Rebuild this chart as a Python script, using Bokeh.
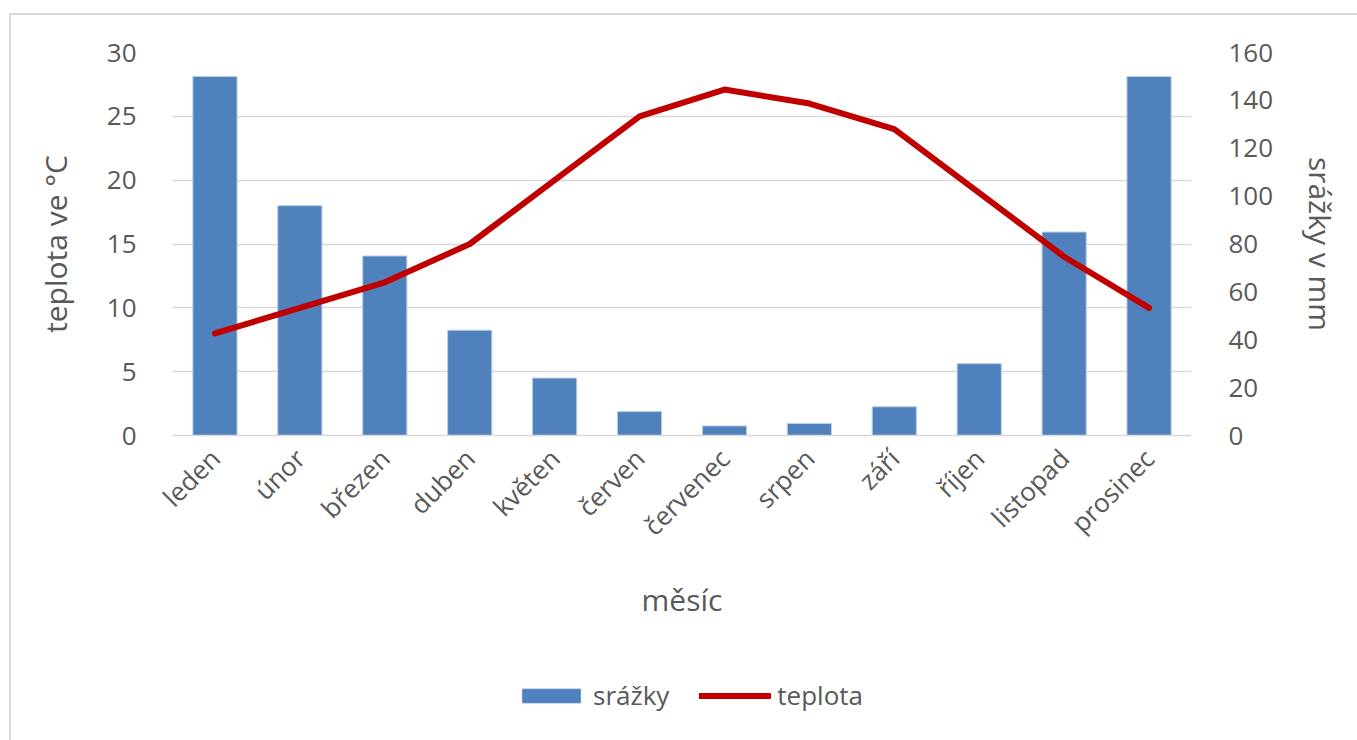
import math
from bokeh.plotting import figure
from bokeh.layouts import column
from bokeh.models import (Range1d, LinearAxis, FactorRange, Legend, LegendItem, FixedTicker,
                          ColumnDataSource, InlineStyleSheet)
from bokeh.embed import file_html
from bokeh.resources import INLINE

months = ["leden", "únor", "březen", "duben", "květen", "červen",
          "červenec", "srpen", "září", "říjen", "listopad", "prosinec"]
srazky = [150, 96, 75, 44, 24, 10, 4, 5, 12, 30, 85, 150]
teplota = [8, 10, 12, 15, 20, 25, 27.1, 26, 24, 19, 14, 10]

left_ticks = [0, 5, 10, 15, 20, 25, 30]
right_ticks = [0, 20, 40, 60, 80, 100, 120, 140, 160]

FONT = "Open Sans"
GRAY = "#595959"
GRID = "#D9D9D9"
BAR = "#4F81BD"
LINE = "#C00000"

src = ColumnDataSource(dict(m=months, s=srazky, t=teplota))

p = figure(width=1350, height=625, x_range=FactorRange(*months, range_padding=0),
           y_range=Range1d(0, 30), output_backend="svg", toolbar_location=None,
           min_border_left=172, min_border_top=52, min_border_right=159, min_border_bottom=190)
p.extra_y_ranges = {"r": Range1d(0, 160)}
p.outline_line_color = None
p.stylesheets = [InlineStyleSheet(css=":host { overflow: visible; } :host::after { content: ''; position: absolute; "
                                      "left: 9px; top: 13px; right: -30px; bottom: -300px; "
                                      "border: 2px solid #D9D9D9; pointer-events: none; z-index: 10; }")]

bars = p.vbar(x="m", top="s", width=0.52, source=src, y_range_name="r",
              fill_color=BAR, line_color="#B9CDE5", line_width=1)
line = p.line(x="m", y="t", source=src, line_color=LINE, line_width=6,
              line_cap="round", line_join="round")

# grid
p.xgrid.grid_line_color = None
p.ygrid.grid_line_color = GRID
p.ygrid.grid_line_width = 1.5

# left axis
ya = p.yaxis[0]
ya.ticker = FixedTicker(ticks=left_ticks)
ya.axis_line_color = None
ya.major_tick_line_color = None
ya.minor_tick_line_color = None
ya.major_label_standoff = 30
ya.major_label_text_font = FONT
ya.major_label_text_font_size = "26px"
ya.major_label_text_color = GRAY
ya.axis_label = "teplota ve °C"
ya.axis_label_text_font = FONT
ya.axis_label_text_font_size = "30px"
ya.axis_label_text_font_style = "normal"
ya.axis_label_text_color = GRAY
ya.axis_label_standoff = 28

# right axis
ra = LinearAxis(y_range_name="r", ticker=FixedTicker(ticks=right_ticks))
ra.axis_line_color = None
ra.major_tick_line_color = None
ra.minor_tick_line_color = None
ra.major_label_standoff = 31
ra.major_label_text_font = FONT
ra.major_label_text_font_size = "26px"
ra.major_label_text_color = GRAY
ra.axis_label = "srážky v mm"
ra.axis_label_text_font = FONT
ra.axis_label_text_font_size = "30px"
ra.axis_label_text_font_style = "normal"
ra.axis_label_text_color = GRAY
ra.axis_label_standoff = 24
ra.axis_label_orientation = "vertical"
p.add_layout(ra, "right")

# bottom axis
xa = p.xaxis[0]
xa.axis_line_color = GRID
xa.axis_line_width = 1.5
xa.major_tick_line_color = None
xa.major_label_orientation = math.pi / 4
xa.major_label_standoff = 12
xa.major_label_text_font = FONT
xa.major_label_text_font_size = "26px"
xa.major_label_text_color = GRAY
xa.axis_label = "měsíc"
xa.axis_label_text_font = FONT
xa.axis_label_text_font_size = "30px"
xa.axis_label_text_font_style = "normal"
xa.axis_label_text_color = GRAY
xa.axis_label_standoff = 20

# legend strip (separate figure below the chart); its renderers hold no drawable data
lg = figure(width=1350, height=110, x_range=Range1d(0, 1), y_range=Range1d(0, 1),
            output_backend="svg", toolbar_location=None,
            min_border_left=0, min_border_right=0, min_border_top=0, min_border_bottom=0)
lg.axis.visible = False
lg.grid.grid_line_color = None
lg.outline_line_color = None
empty = ColumnDataSource(dict(x=[float("nan")], y=[float("nan")]))
lb = lg.vbar(x="x", top="y", width=0.5, source=empty, fill_color=BAR, line_color=BAR)
ll = lg.line(x="x", y="y", source=empty, line_color=LINE, line_width=6, line_cap="round")

legend = Legend(items=[LegendItem(label="srážky", renderers=[lb]),
                       LegendItem(label="teplota", renderers=[ll])],
                orientation="horizontal", location=(343, 22),
                label_text_font=FONT, label_text_font_size="26px", label_text_color=GRAY,
                glyph_width=72, glyph_height=17, spacing=30, label_standoff=6,
                border_line_color=None, background_fill_alpha=0, margin=0, padding=0)
lg.add_layout(legend, "center")

open("out.html", "w").write(file_html(column(p, lg), INLINE))
